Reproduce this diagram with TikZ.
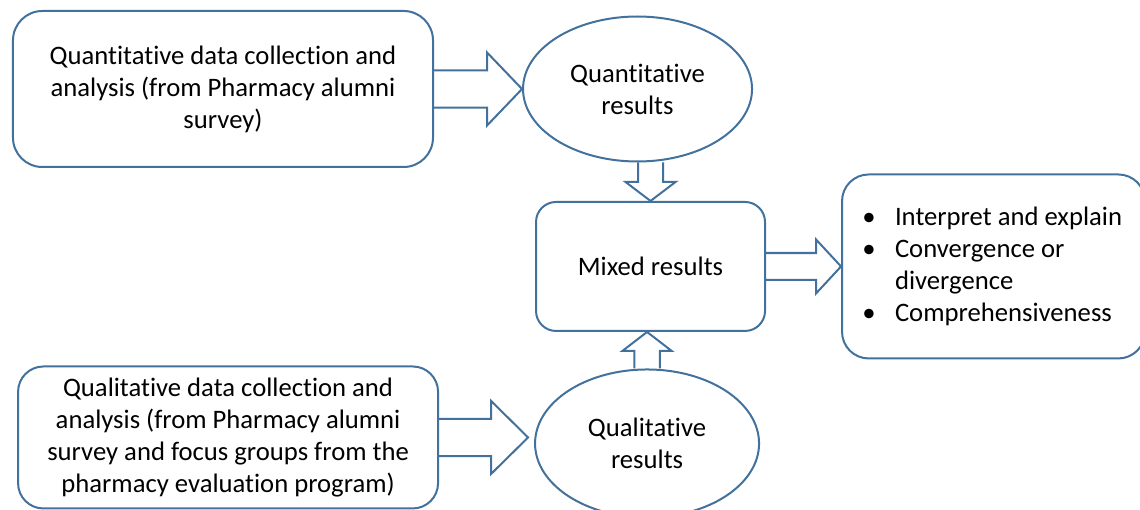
\documentclass[tikz,border=0pt]{standalone}
\usepackage{fontspec}
\setmainfont{Carlito}[RawFeature=-liga]
\usepackage{tikz}
\usetikzlibrary{shapes,calc}
\definecolor{linecolor}{RGB}{65,113,156}

\tikzset{
  fat arrow/.style n args={3}{to path={let \p1=($(\tikztotarget)!#3!(\tikztostart)$) in
    ($(\tikztostart)!#1!90:(\tikztotarget)$) -- ($(\p1)!#1!90:(\tikztotarget)$) -- ($(\p1)!#2!90:(\tikztotarget)$) -- (\tikztotarget)
    -- ($(\p1)!#2!-90:(\tikztotarget)$) -- ($(\p1)!#1!-90:(\tikztotarget)$) -- ($(\tikztostart)!#1!-90:(\tikztotarget)$)}}
}

\begin{document}
\begin{tikzpicture}[line width=1.5pt,node distance=4cm,font=\fontsize{20}{24}\selectfont]
 \tikzstyle{box}=[draw=linecolor,rounded corners=20pt,align=center]
 \tikzstyle{result}=[draw=linecolor,ellipse,align=center,inner sep=0pt]

 \useasboundingbox (-167.25pt,66.75pt) rectangle (687.75pt,-315.75pt);

   \node[box,rounded corners=22pt,minimum width=315pt,minimum height=117pt] (quant) {Quantitative data collection and\\analysis (from Pharmacy alumni\\survey)};
   \node[result,minimum width=171.75pt,minimum height=108.75pt,node distance=310.9pt] (quantres) [right of = quant] {Quantitative\\results};
   \node[box,rounded corners=15pt,minimum width=171.75pt,minimum height=96.75pt,node distance=133.1pt,xshift=9.75pt] (mixed) [below of = quantres] {Mixed results};
   \node[box,minimum width=227.25pt,minimum height=138pt,align=left,node distance=257.25pt] (bullets) [right of = mixed] {\makebox[22.5pt][l]{\hspace*{-2pt}\textbullet}Interpret and explain\\\makebox[22.5pt][l]{\hspace*{-2pt}\textbullet}Convergence or\\\hspace*{22.5pt}divergence\\\makebox[22.5pt][l]{\hspace*{-2pt}\textbullet}Comprehensiveness};
   \node[result,minimum width=168pt,minimum height=111pt,node distance=132.75pt,xshift=-2.6pt] (qualres) [below of = mixed] {Qualitative\\results};
   \node[box,rounded corners=19pt,minimum width=315pt,minimum height=106.5pt,node distance=314.25pt,yshift=4.5pt] (qual) [left of = qualres] {Qualitative data collection and\\analysis (from Pharmacy alumni\\survey and focus groups from the\\pharmacy evaluation program)};

   \coordinate (q1) at (quant.east -| quantres.west);
   \coordinate (q2) at (mixed.north |- quantres.south);
   \coordinate (q3) at (qualres.north |- mixed.south);
   \coordinate (q4) at (mixed.east -| bullets.west);
   \coordinate (q5) at ($(qual.east -| qualres.west)+(-4.5pt,0)$);

  \path[draw=linecolor]
    (quant.east) edge [fat arrow={13.9pt}{27.4pt}{26.25pt}] (q1)
    (q2) edge [fat arrow={9.4pt}{18.75pt}{14.25pt}] (mixed.north)
    (qualres.north) edge [fat arrow={9.6pt}{18.5pt}{14.25pt}] (q3)
    (mixed.east) edge [fat arrow={10.1pt}{20.25pt}{18.75pt}] (q4)
    (qual.east) edge [fat arrow={13.9pt}{27.4pt}{27.75pt}] (q5);

\end{tikzpicture}
\end{document}
